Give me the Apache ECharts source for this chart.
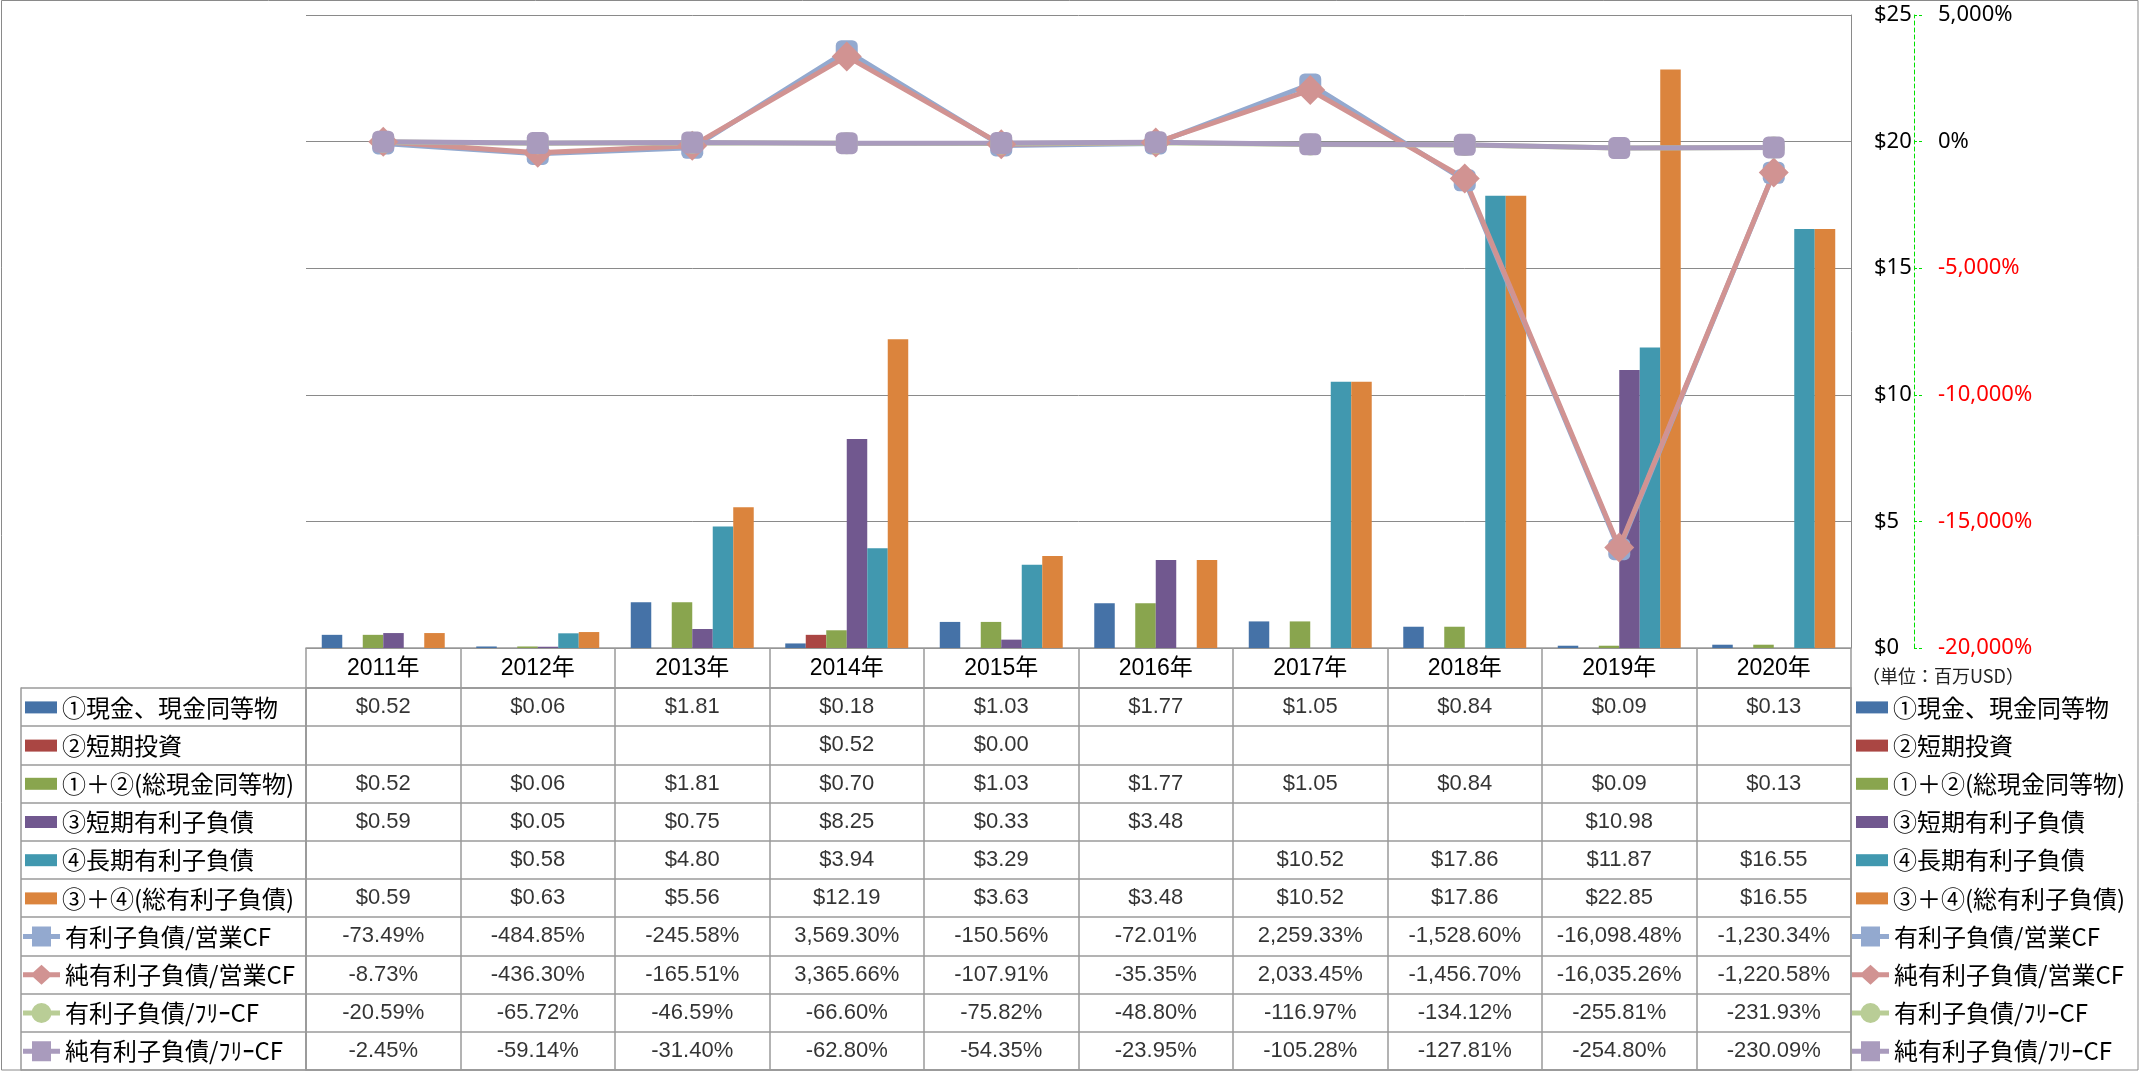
<!DOCTYPE html>
<html><head><meta charset="utf-8">
<script src="https://cdn.jsdelivr.net/npm/echarts@6/dist/echarts.min.js"></script>
<style>html,body{margin:0;padding:0;background:#fff}#c{width:2139px;height:1071px}</style>
</head><body><div id="c"></div>
<script>
// ---------- data ----------
const years = ['2011年','2012年','2013年','2014年','2015年','2016年','2017年','2018年','2019年','2020年'];

const barNames = ['①現金、現金同等物','②短期投資','①＋②(総現金同等物)','③短期有利子負債','④長期有利子負債','③＋④(総有利子負債)'];
const cashEq      = [0.52, 0.06, 1.81, 0.18, 1.03, 1.77, 1.05, 0.84, 0.09, 0.13];
const shortInv    = [null, null, null, 0.52, 0.00, null, null, null, null, null];
const totalCash   = [0.52, 0.06, 1.81, 0.70, 1.03, 1.77, 1.05, 0.84, 0.09, 0.13];
const shortDebt   = [0.59, 0.05, 0.75, 8.25, 0.33, 3.48, null, null, 10.98, null];
const longDebt    = [null, 0.58, 4.80, 3.94, 3.29, null, 10.52, 17.86, 11.87, 16.55];
const totalDebt   = [0.59, 0.63, 5.56, 12.19, 3.63, 3.48, 10.52, 17.86, 22.85, 16.55];

const lineNames = ['有利子負債/営業CF','純有利子負債/営業CF','有利子負債/ﾌﾘｰCF','純有利子負債/ﾌﾘｰCF'];
const debtOpCF    = [-73.49, -484.85, -245.58, 3569.30, -150.56, -72.01, 2259.33, -1528.60, -16098.48, -1230.34];
const netDebtOpCF = [-8.73, -436.30, -165.51, 3365.66, -107.91, -35.35, 2033.45, -1456.70, -16035.26, -1220.58];
const debtFreeCF  = [-20.59, -65.72, -46.59, -66.60, -75.82, -48.80, -116.97, -134.12, -255.81, -231.93];
const netDebtFreeCF = [-2.45, -59.14, -31.40, -62.80, -54.35, -23.95, -105.28, -127.81, -254.80, -230.09];

const usdTicks = [0, 25, 5];        // min, max, interval
const pctTicks = [-20000, 5000, 5000];
const unitLabel = '（単位：百万USD）';

// ---------- styles ----------
const barData = [cashEq, shortInv, totalCash, shortDebt, longDebt, totalDebt];
const barColors = ['#4572A7','#AA4643','#89A54E','#71588F','#4198AF','#DB843D'];
const lineData = [debtOpCF, netDebtOpCF, debtFreeCF, netDebtFreeCF];
const lineColors = ['#93A9CF','#D19392','#B9CD96','#A99BBD'];
const lineSymbols = ['roundRect','diamond','circle','roundRect'];
const lineSymbolSizes = [22, 30, 22, 22];

// legend icons: thick line with marker (37 x 20 box)
const LINE_BAR = 'M0,7.5L37,7.5L37,12.5L0,12.5Z';
const iconSquare = 'path://' + LINE_BAR + 'M9,0L28,0L28,20L9,20Z';
const iconDiamond = 'path://' + LINE_BAR + 'M18.5,0L29.5,10L18.5,20L7.5,10Z';
const iconCircle = 'path://' + LINE_BAR + 'M28.5,10A10,10,0,1,1,8.5,10A10,10,0,1,1,28.5,10Z';
const lineIcons = [iconSquare, iconDiamond, iconCircle, iconSquare];

const GRID_C = '#8a8a8a';
const TBL_C = '#9a9a9a';
const latin = '"Liberation Sans","Noto Sans CJK JP",sans-serif';
const cjk = '"Noto Sans CJK JP","Noto Sans",sans-serif';

const fmtUsd = v => '$' + v.toFixed(2);
const fmtPct = v => v.toLocaleString('en-US', {minimumFractionDigits: 2, maximumFractionDigits: 2}) + '%';

const rowNames = barNames.concat(lineNames);
const rowData = barData.concat(lineData);
const cells = [];
rowData.forEach((arr, r) => {
  arr.forEach((v, c) => {
    if (v !== null && v !== undefined) cells.push({name: r < 6 ? fmtUsd(v) : fmtPct(v), value: [c, r]});
  });
});

const series = [];
barNames.forEach((n, i) => series.push({
  type: 'bar', name: n, data: barData[i], xAxisIndex: 0, yAxisIndex: 0,
  itemStyle: {color: barColors[i]}, barGap: '0%', barCategoryGap: '20.4%'
}));
lineNames.forEach((n, i) => series.push({
  type: 'line', name: n, data: lineData[i], xAxisIndex: 0, yAxisIndex: 1,
  symbol: lineSymbols[i], symbolSize: lineSymbolSizes[i], showAllSymbol: true,
  lineStyle: {width: 5, color: lineColors[i]}, itemStyle: {color: lineColors[i]}, z: 3
}));
series.push({
  type: 'scatter', name: 'table', data: cells, xAxisIndex: 1, yAxisIndex: 2,
  symbolSize: 1, itemStyle: {color: 'rgba(0,0,0,0)'}, silent: true,
  label: {show: true, position: 'inside', formatter: '{b}', color: '#000', fontSize: 22, fontFamily: latin}
});

const legendBase = {
  orient: 'vertical', padding: 0, selectedMode: false, itemGap: 10.2,
  textStyle: {fontSize: 24, lineHeight: 28, fontFamily: cjk, color: '#000'}
};
const lineLegendData = lineNames.map((n, i) => ({name: n, icon: lineIcons[i]}));

const option = {
  animation: false,
  backgroundColor: '#fff',
  title: {text: unitLabel, left: 1862, top: 667, padding: 0, textStyle: {fontSize: 18, fontWeight: 'normal', color: '#222', fontFamily: cjk}},
  graphic: [{type: 'rect', shape: {x: 1.5, y: 0.5, width: 2136.5, height: 1069.5}, style: {fill: 'none', stroke: '#8a8a8a', lineWidth: 1}, silent: true}],
  legend: [
    Object.assign({}, legendBase, {data: barNames, left: 25, top: 693.4, itemWidth: 32, itemHeight: 12, icon: 'rect'}),
    Object.assign({}, legendBase, {data: lineLegendData, left: 23, top: 922.6, itemWidth: 37, itemHeight: 20}),
    Object.assign({}, legendBase, {data: barNames, left: 1856, top: 693.4, itemWidth: 32, itemHeight: 12, icon: 'rect'}),
    Object.assign({}, legendBase, {data: lineLegendData, left: 1852, top: 922.6, itemWidth: 37, itemHeight: 20})
  ],
  grid: [
    {left: 306, right: 288, top: 15, height: 633, containLabel: false},
    {left: 306, right: 288, top: 688, height: 382, show: true, borderColor: TBL_C, borderWidth: 1.5, containLabel: false}
  ],
  xAxis: [
    {type: 'category', gridIndex: 0, data: years, position: 'bottom',
     axisLine: {show: true, lineStyle: {color: TBL_C, width: 1.5}}, axisTick: {show: false},
     axisLabel: {interval: 0, margin: 9, fontSize: 23, color: '#000', fontFamily: latin}},
    {type: 'category', gridIndex: 1, data: years, position: 'top',
     axisLine: {show: true, lineStyle: {color: TBL_C, width: 1.5}},
     axisTick: {show: true, length: 40, interval: 0, alignWithLabel: false, lineStyle: {color: TBL_C, width: 1.5}},
     axisLabel: {show: false},
     splitLine: {show: true, interval: 0, lineStyle: {color: TBL_C, width: 1.5}}}
  ],
  yAxis: [
    {type: 'value', gridIndex: 0, position: 'right', min: usdTicks[0], max: usdTicks[1], interval: usdTicks[2],
     axisLine: {show: true, lineStyle: {color: GRID_C, width: 1}}, axisTick: {show: false},
     splitLine: {show: true, lineStyle: {color: GRID_C, width: 1}},
     axisLabel: {margin: 23, fontSize: 22, color: '#000', fontFamily: '"Noto Sans",sans-serif', formatter: v => '$' + v}},
    {type: 'value', gridIndex: 0, position: 'right', offset: 63, min: pctTicks[0], max: pctTicks[1], interval: pctTicks[2],
     axisLine: {show: true, lineStyle: {color: '#00e000', width: 1, type: [4, 3]}},
     axisTick: {show: true, length: 8, lineStyle: {color: '#00e000', width: 1, type: [3, 2]}},
     splitLine: {show: false},
     axisLabel: {margin: 24, fontSize: 22, fontFamily: '"Noto Sans",sans-serif',
       color: v => (Number(v) < 0 ? '#ff0000' : '#000'),
       formatter: v => v.toLocaleString('en-US') + '%'}},
    {type: 'category', gridIndex: 1, data: rowNames, inverse: true, position: 'left',
     axisLine: {show: true, lineStyle: {color: TBL_C, width: 1.5}},
     axisTick: {show: true, length: 285, interval: 0, alignWithLabel: false, lineStyle: {color: TBL_C, width: 1.5}},
     axisLabel: {show: false},
     splitLine: {show: true, interval: 0, lineStyle: {color: TBL_C, width: 1.5}}},
    {type: 'category', gridIndex: 1, data: rowNames, inverse: true, position: 'left', offset: 285,
     axisLine: {show: true, lineStyle: {color: TBL_C, width: 1.5}},
     axisTick: {show: false}, axisLabel: {show: false}, splitLine: {show: false}}
  ],
  series: series
};

const chart = echarts.init(document.getElementById('c'));
chart.setOption(option);
</script>
</body></html>
